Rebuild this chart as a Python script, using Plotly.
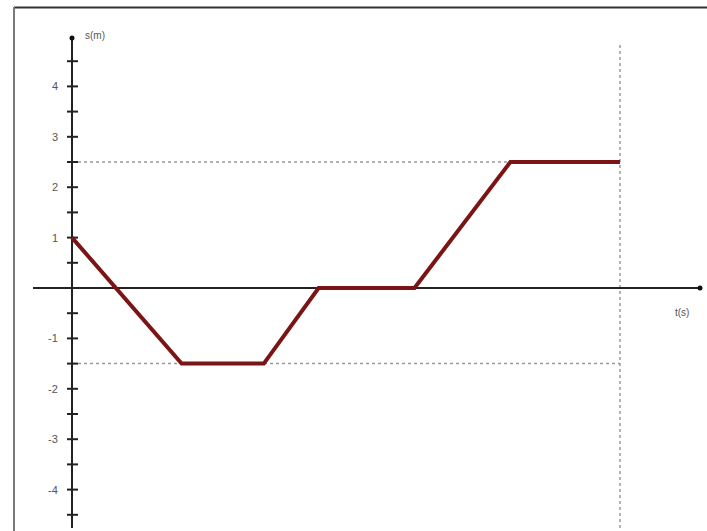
import plotly.graph_objects as go

# data
t_values = [0, 2, 3.5, 4.5, 6.25, 8, 10]
s_values = [1, -1.5, -1.5, 0, 0, 2.5, 2.5]
y_tick_values = [4, 3, 2, 1, -1, -2, -3, -4]
y_tick_labels = ["4", "3", "2", "1", "-1", "-2", "-3", "-4"]
minor_tick_values = [v / 2 for v in range(-9, 10) if v != 0]
ref_levels = [2.5, -1.5]
t_end = 10

W, H = 707, 531
px_t = 54.8
px_s = 50.4
x0_px, y0_px = 72, 288
x_range = [-x0_px / px_t, (W - x0_px) / px_t]
y_range = [-(H - y0_px) / px_s, y0_px / px_s]

def tx(px):
    return x_range[0] + px / px_t

def sy(py):
    return y_range[1] - py / px_s

fig = go.Figure()

shapes = []
# outer border (top and left)
shapes.append(dict(type="line", xref="paper", yref="paper", x0=14 / W, x1=1, y0=1 - 7.5 / H, y1=1 - 7.5 / H,
                   line=dict(color="#333333", width=2), layer="below"))
shapes.append(dict(type="line", xref="paper", yref="paper", x0=14 / W, x1=14 / W, y0=1 - 7 / H, y1=0,
                   line=dict(color="#7a7a7a", width=2), layer="below"))
# reference dotted lines
for lv in ref_levels:
    shapes.append(dict(type="line", x0=0, x1=t_end, y0=lv, y1=lv, layer="below",
                       line=dict(color="#9a9a9a", width=1.5, dash="dot")))
shapes.append(dict(type="line", x0=t_end, x1=t_end, y0=sy(45), y1=sy(528), layer="below",
                   line=dict(color="#9a9a9a", width=1.5, dash="dot")))
# axes
shapes.append(dict(type="line", x0=tx(33), x1=tx(700), y0=0, y1=0, layer="below",
                   line=dict(color="#222222", width=2)))
shapes.append(dict(type="line", x0=0, x1=0, y0=sy(38), y1=sy(528), layer="below",
                   line=dict(color="#222222", width=2)))
# ticks
for v in minor_tick_values:
    shapes.append(dict(type="line", x0=tx(67), x1=tx(78), y0=v, y1=v, layer="below",
                       line=dict(color="#222222", width=2)))
v = sy(38)
shapes.append(dict(type="circle", x0=tx(69.5), x1=tx(74.5), y0=v - 2.5 / px_s, y1=v + 2.5 / px_s,
                   fillcolor="#111111", line=dict(width=0), layer="below"))
shapes.append(dict(type="circle", x0=tx(697.5), x1=tx(702.5), y0=-2.5 / px_s, y1=2.5 / px_s,
                   fillcolor="#111111", line=dict(width=0), layer="below"))

fig.add_trace(go.Scatter(x=t_values, y=s_values, mode="lines",
                         line=dict(color="#7b1414", width=4), hoverinfo="skip"))

annotations = []
for val, lab in zip(y_tick_values, y_tick_labels):
    annotations.append(dict(x=tx(60), y=val, text=lab, showarrow=False, xanchor="right", yanchor="middle",
                            font=dict(family="Liberation Sans, Arial", size=11, color="#555555")))
annotations.append(dict(x=tx(83), y=sy(35), text="s(m)", showarrow=False, xanchor="left", yanchor="middle",
                        font=dict(family="Liberation Sans, Arial", size=10, color="#555555")))
annotations.append(dict(x=tx(673), y=sy(312), text="t(s)", showarrow=False, xanchor="left", yanchor="middle",
                        font=dict(family="Liberation Sans, Arial", size=10, color="#555555")))

fig.update_layout(
    width=W, height=H,
    margin=dict(l=0, r=0, t=0, b=0),
    paper_bgcolor="white", plot_bgcolor="white",
    showlegend=False,
    xaxis=dict(range=x_range, visible=False, fixedrange=True),
    yaxis=dict(range=y_range, visible=False, fixedrange=True),
    shapes=shapes, annotations=annotations,
)

fig.write_html("out.html")
